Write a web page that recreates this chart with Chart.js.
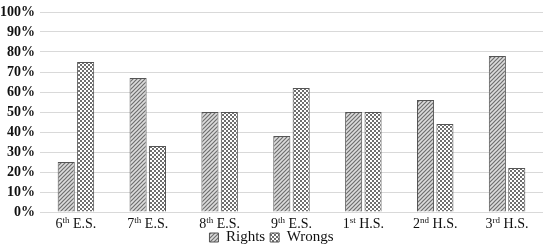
<!DOCTYPE html>
<html>
<head>
<meta charset="utf-8">
<script src="https://cdn.jsdelivr.net/npm/chart.js@4.4.1/dist/chart.umd.min.js"></script>
<style>
  html, body { margin: 0; padding: 0; background: #fff; }
  #wrap { width: 547px; height: 246px; position: relative; }
</style>
</head>
<body>
<div id="wrap"><canvas id="c"></canvas></div>
<script>
// grade labels, split so the ordinal suffix can be raised
const gradeNums = ['6', '7', '8', '9', '1', '2', '3'];
const gradeSuffixes = ['th', 'th', 'th', 'th', 'st', 'nd', 'rd'];
const gradeLevels = ['E.S.', 'E.S.', 'E.S.', 'E.S.', 'H.S.', 'H.S.', 'H.S.'];
const categories = gradeNums.map((n, i) => n + gradeSuffixes[i] + ' ' + gradeLevels[i]);

const rights = [25, 67, 50, 38, 50, 56, 78];
const wrongs = [75, 33, 50, 62, 50, 44, 22];

const yTicks = [0, 10, 20, 30, 40, 50, 60, 70, 80, 90, 100];

const SERIF = '"Liberation Serif", "Times New Roman", serif';

// hatch fills
function makeDiagonal() {
  const p = document.createElement('canvas');
  p.width = 4; p.height = 4;
  const g = p.getContext('2d');
  g.fillStyle = '#dcdcdc';
  g.fillRect(0, 0, 4, 4);
  g.strokeStyle = '#6e6e6e';
  g.lineWidth = 1.2;
  g.beginPath();
  g.moveTo(0, 4); g.lineTo(4, 0);
  g.moveTo(-1, 1); g.lineTo(1, -1);
  g.moveTo(3, 5); g.lineTo(5, 3);
  g.stroke();
  return g.createPattern(p, 'repeat');
}

function makeChecker() {
  const p = document.createElement('canvas');
  p.width = 4; p.height = 4;
  const g = p.getContext('2d');
  g.fillStyle = '#ffffff';
  g.fillRect(0, 0, 4, 4);
  g.fillStyle = '#6e6e6e';
  g.fillRect(0, 0, 2, 2);
  g.fillRect(2, 2, 2, 2);
  return g.createPattern(p, 'repeat');
}

const rightsFill = makeDiagonal();
const wrongsFill = makeChecker();

// legend in the picture sits tight under the axis; trim its box
const tightLegend = {
  id: 'tightLegend',
  beforeLayout(chart) {
    const lg = chart.legend;
    if (lg && !lg._tight) {
      const fit = lg.fit.bind(lg);
      lg.fit = function () { fit(); this.height = 21; };
      lg._tight = true;
    }
  }
};

// draws "6th E.S." with a raised suffix under each category
const ordinalLabels = {
  id: 'ordinalLabels',
  afterDraw(chart) {
    const ctx = chart.ctx;
    const x = chart.scales.x;
    const y = x.top + 16;
    ctx.save();
    ctx.fillStyle = '#111';
    ctx.textBaseline = 'alphabetic';
    gradeNums.forEach((n, i) => {
      const big = '14px ' + SERIF;
      const small = '9px ' + SERIF;
      ctx.font = big;
      const wN = ctx.measureText(n).width;
      const rest = ' ' + gradeLevels[i];
      const wR = ctx.measureText(rest).width;
      ctx.font = small;
      const wS = ctx.measureText(gradeSuffixes[i]).width;
      const total = wN + wS + wR;
      let cx = x.getPixelForTick(i) - total / 2;
      ctx.font = big;
      ctx.fillText(n, cx, y);
      cx += wN;
      ctx.font = small;
      ctx.fillText(gradeSuffixes[i], cx, y - 5);
      cx += wS;
      ctx.font = big;
      ctx.fillText(rest, cx, y);
    });
    ctx.restore();
  }
};

new Chart(document.getElementById('c'), {
  type: 'bar',
  data: {
    labels: categories,
    datasets: [
      {
        label: 'Rights',
        data: rights,
        backgroundColor: rightsFill,
        borderColor: '#555',
        borderWidth: 1,
        barPercentage: 0.88,
        categoryPercentage: 0.54,
      },
      {
        label: 'Wrongs',
        data: wrongs,
        backgroundColor: wrongsFill,
        borderColor: '#555',
        borderWidth: 1,
        barPercentage: 0.88,
        categoryPercentage: 0.54,
      }
    ]
  },
  options: {
    responsive: true,
    maintainAspectRatio: false,
    animation: false,
    layout: { padding: { left: 0, right: 4, top: 0, bottom: 0 } },
    plugins: {
      tooltip: { enabled: false },
      legend: {
        position: 'bottom',
        labels: {
          boxWidth: 9,
          boxHeight: 9,
          padding: 5,
          color: '#111',
          font: { family: SERIF, size: 15 },
        }
      }
    },
    scales: {
      x: {
        grid: { display: false, drawTicks: false },
        border: { display: false },
        ticks: { display: false, autoSkip: false },
        afterFit(axis) { axis.height = 13; },
      },
      y: {
        min: 0,
        max: 100,
        afterBuildTicks(axis) { axis.ticks = yTicks.map(v => ({ value: v })); },
        afterFit(axis) { axis.width = 40; },
        grid: { color: '#d9d9d9', lineWidth: 1, drawTicks: false },
        border: { display: false },
        ticks: {
          color: '#111',
          padding: 5,
          autoSkip: false,
          font: { family: SERIF, size: 14, weight: 'bold', lineHeight: 1 },
          callback: v => v + '%',
        }
      }
    }
  },
  plugins: [tightLegend, ordinalLabels]
});
</script>
</body>
</html>
